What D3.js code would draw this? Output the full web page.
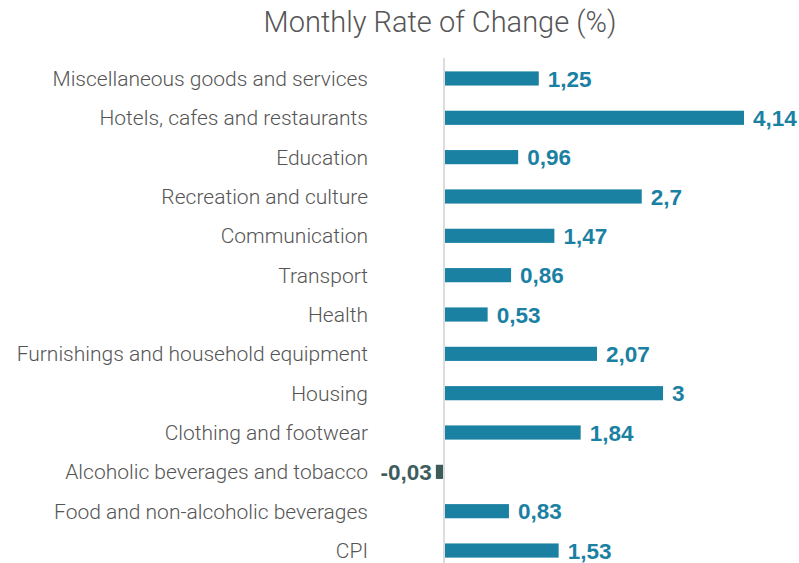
<!DOCTYPE html>
<html>
<head>
<meta charset="utf-8">
<script src="https://cdn.jsdelivr.net/npm/d3@7"></script>
<style>
  html, body { margin: 0; padding: 0; background: #fff; }
  svg { display: block; }
</style>
</head>
<body>
<svg id="chart" width="799" height="563"></svg>
<script>
const categories = [
  "Miscellaneous goods and services",
  "Hotels, cafes and restaurants",
  "Education",
  "Recreation and culture",
  "Communication",
  "Transport",
  "Health",
  "Furnishings and household equipment",
  "Housing",
  "Clothing and footwear",
  "Alcoholic beverages and tobacco",
  "Food and non-alcoholic beverages",
  "CPI"
];
const values = [1.25, 4.14, 0.96, 2.7, 1.47, 0.86, 0.53, 2.07, 3, 1.84, -0.03, 0.83, 1.53];
const valueLabels = ["1,25", "4,14", "0,96", "2,7", "1,47", "0,86", "0,53", "2,07", "3", "1,84", "-0,03", "0,83", "1,53"];
const title = "Monthly Rate of Change (%)";

const posColor = "#1a81a3";
const negColor = "#3d5b5a";
const negText = "#3e5d5d";

const svg = d3.select("#chart");

const x = d3.scaleLinear().domain([0, 4.14]).range([444, 738]);
const y = d3.scaleBand().domain(categories).range([58.8, 570.2])
  .paddingInner(0.64).paddingOuter(0.32);
const pad = 6;

// title
svg.append("text")
  .attr("x", 440).attr("y", 32)
  .attr("text-anchor", "middle")
  .attr("font-family", "Roboto, 'Helvetica Neue', Arial, sans-serif")
  .attr("font-weight", 300)
  .attr("font-size", 29)
  .attr("fill", "#555")
  .text(title);

// zero axis line
svg.append("line")
  .attr("x1", x(0)).attr("x2", x(0))
  .attr("y1", 58).attr("y2", 563)
  .attr("stroke", "#dcdcdc").attr("stroke-width", 2);

const data = categories.map((c, i) => ({ c, v: values[i], l: valueLabels[i] }));

// bars
svg.append("g").selectAll("rect").data(data).join("rect")
  .attr("x", d => d.v >= 0 ? x(0) + 1 : x(d.v) - pad)
  .attr("width", d => Math.abs(x(d.v) - x(0)) + pad - 1)
  .attr("y", d => y(d.c))
  .attr("height", y.bandwidth())
  .attr("fill", d => d.v >= 0 ? posColor : negColor);

// category labels
svg.append("g").selectAll("text").data(data).join("text")
  .attr("x", 368)
  .attr("y", d => y(d.c) + y.bandwidth() / 2)
  .attr("dy", "0.36em")
  .attr("text-anchor", "end")
  .attr("font-family", "Roboto, 'Helvetica Neue', Arial, sans-serif")
  .attr("font-weight", 300)
  .attr("font-size", 21)
  .attr("fill", "#555")
  .text(d => d.c);

// value labels
svg.append("g").selectAll("text").data(data).join("text")
  .attr("x", d => d.v >= 0 ? x(d.v) + pad + 9 : x(d.v) - pad - 4)
  .attr("y", d => y(d.c) + y.bandwidth() / 2)
  .attr("dy", "0.36em")
  .attr("text-anchor", d => d.v >= 0 ? "start" : "end")
  .attr("font-family", "'Liberation Sans', Arial, sans-serif")
  .attr("font-weight", 700)
  .attr("font-size", 22.5)
  .attr("fill", d => d.v >= 0 ? posColor : negText)
  .text(d => d.l);
</script>
</body>
</html>
